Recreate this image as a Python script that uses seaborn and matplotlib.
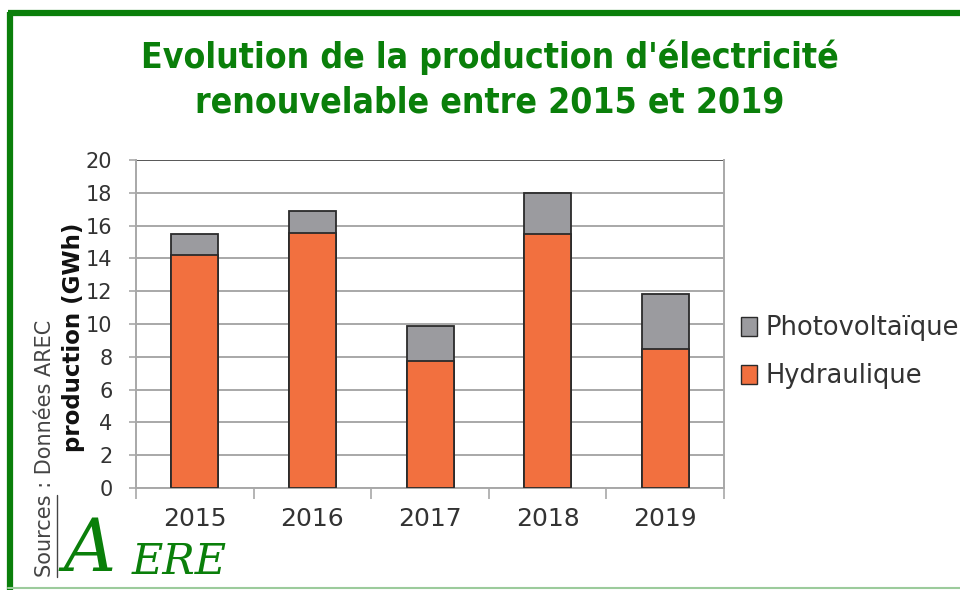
import matplotlib
matplotlib.use("Agg")
import matplotlib.pyplot as plt
from matplotlib.patches import Patch
from matplotlib.lines import Line2D
import seaborn as sns
import pandas as pd
import numpy as np

# Production data (GWh)
years = ["2015", "2016", "2017", "2018", "2019"]
hydraulique = [14.2, 15.55, 7.75, 15.5, 8.5]
photovoltaique = [1.3, 1.35, 2.15, 2.5, 3.3]
yticks = [0, 2, 4, 6, 8, 10, 12, 14, 16, 18, 20]

ORANGE = "#F2703F"
GREY = "#9B9B9F"
EDGE = "#2B2B2B"
GREEN = "#0A7F0A"
GRID = "#A8A8A8"
TXT = "#333333"

sns.set_theme(style="white")
plt.rcParams["font.family"] = ["DejaVu Sans"]

df = pd.DataFrame({
    "annee": years,
    "hydraulique": hydraulique,
    "total": np.array(hydraulique) + np.array(photovoltaique),
})

fig = plt.figure(figsize=(9.6, 5.9), dpi=100)
ax = fig.add_axes([0.1417, 0.1729, 0.6125, 0.5559])

# horizontal gridlines
for v in yticks[:-1]:
    ax.axhline(v, color=GRID, lw=1.4, zorder=0)
ax.axhline(20, color="#3A3A3A", lw=1.2, zorder=0)

sns.barplot(data=df, x="annee", y="total", color=GREY, width=0.4,
            edgecolor=EDGE, linewidth=1.3, saturation=1, ax=ax, zorder=2)
sns.barplot(data=df, x="annee", y="hydraulique", color=ORANGE, width=0.4,
            edgecolor=EDGE, linewidth=1.3, saturation=1, ax=ax, zorder=3)

ax.set_xlim(-0.5, 4.5)
ax.set_ylim(0, 20)
ax.set_xlabel("")
ax.set_ylabel("")

ax.spines["top"].set_visible(False)
for s in ["left", "right", "bottom"]:
    ax.spines[s].set_visible(True)
    ax.spines[s].set_color(GRID)
    ax.spines[s].set_linewidth(1.4)

ax.set_yticks(yticks)
ax.set_yticklabels([str(v) for v in yticks], fontsize=15, color=TXT)
ax.tick_params(axis="y", which="major", direction="out", length=5, width=1.2,
               color=GRID, pad=12, left=True)

# category boundaries as tick marks, labels centred on bars
ax.set_xticks(np.arange(-0.5, 5.0, 1.0))
ax.set_xticklabels([])
ax.tick_params(axis="x", which="major", direction="out", length=8, width=1.2,
               color=GRID, bottom=True)
ax.set_xticks(np.arange(len(years)), minor=True)
ax.set_xticklabels(years, minor=True, fontsize=18, color=TXT)
ax.tick_params(axis="x", which="minor", length=0, pad=14)

# legend
handles = [Patch(facecolor=GREY, edgecolor=EDGE, label="Photovoltaïque"),
           Patch(facecolor=ORANGE, edgecolor=EDGE, label="Hydraulique")]
fig.legend(handles=handles, loc="center left", bbox_to_anchor=(0.772, 0.403),
           frameon=False, fontsize=18.5, handlelength=0.6, handleheight=0.75,
           handletextpad=0.35, labelspacing=0.85, labelcolor=TXT,
           borderpad=0.0, borderaxespad=0.0)

# title
title_font = dict(ha="center", va="center", fontsize=25.5, fontweight="bold",
                  color=GREEN, family=["DejaVu Sans"], fontstretch="condensed")
fig.text(0.51, 0.903, "Evolution de la production d'électricité", **title_font)
fig.text(0.51, 0.826, "renouvelable entre 2015 et 2019", **title_font)

# axis label
fig.text(0.077, 0.429, "production (GWh)", rotation=90, ha="center",
         va="center", fontsize=16.5, fontweight="bold", color="#111111")

# source, with "Sources" underlined
src_x, src_y0 = 0.047, 0.022
fig.text(src_x, src_y0, "Sources : Données AREC", rotation=90, ha="center",
         va="bottom", fontsize=15, color="#444444")
probe = fig.text(src_x, src_y0, "Sources", rotation=90, ha="center",
                 va="bottom", fontsize=15, color="none")
fig.canvas.draw()
bb = probe.get_window_extent().transformed(fig.transFigure.inverted())
probe.remove()
fig.add_artist(Line2D([bb.x1 + 0.002, bb.x1 + 0.002], [bb.y0, bb.y1],
                      color="#444444", lw=1.0, transform=fig.transFigure))

# logo
fig.text(0.066, 0.006, "A", fontsize=52, style="italic", color=GREEN,
         family="DejaVu Serif", ha="left", va="bottom")
fig.text(0.137, 0.027, "ERE", fontsize=31, style="italic", color=GREEN,
         family="DejaVu Serif", ha="left", va="baseline")

# page frame
fig.add_artist(Line2D([0.008, 1.0], [0.978, 0.978], color=GREEN, lw=4.5,
                      transform=fig.transFigure, solid_capstyle="butt"))
fig.add_artist(Line2D([0.0105, 0.0105], [0.0, 0.98], color=GREEN, lw=4.5,
                      transform=fig.transFigure, solid_capstyle="butt"))
fig.add_artist(Line2D([0.008, 1.0], [0.003, 0.003], color="#9CCB9C", lw=1.5,
                      transform=fig.transFigure))

fig.savefig("out.png", dpi=100)
